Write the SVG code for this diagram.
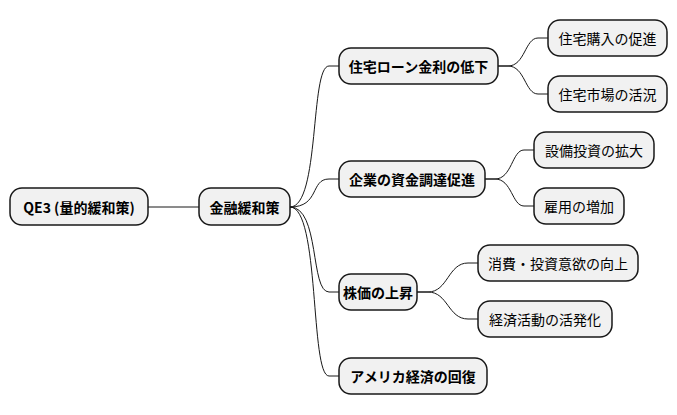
<svg xmlns="http://www.w3.org/2000/svg" width="677" height="415" viewBox="0 0 677 415">
<style>
.n rect{fill:#F1F1F1;stroke:#181818;stroke-width:1.5}
.n text{font-family:"Noto Sans CJK JP","DejaVu Sans",sans-serif;font-size:14px;fill:#000;text-anchor:middle;dominant-baseline:central}
.b text{font-weight:bold}
#edges path{fill:none;stroke:#181818;stroke-width:1}
</style>
<g id="edges">
<path d="M148,207 L199,207"/>
<path d="M290,207 C320,207 310,66 329,66 L339,66"/>
<path d="M290,207 C320,207 310,179 329,179 L339,179"/>
<path d="M290,207 C320,207 310,292 329,292 L339,292"/>
<path d="M290,207 C320,207 310,376 329,376 L339,376"/>
<path d="M498,66 L508,66 C525,66 525,38 538,38 L548,38"/>
<path d="M498,66 L508,66 C525,66 525,94 538,94 L548,94"/>
<path d="M485,179 L495,179 C512,179 512,150 524,150 L534,150"/>
<path d="M485,179 L495,179 C512,179 512,206 524,206 L534,206"/>
<path d="M417,292 L428,292 C448,292 448,263 468,263 L478,263"/>
<path d="M417,292 L428,292 C448,292 448,319 468,319 L478,319"/>
</g>
<g id="root" class="n b"><rect x="10" y="188" width="138" height="37" rx="12"/><text x="79" y="207">QE3 (量的緩和策)</text></g>
<g id="kinyu" class="n b"><rect x="199" y="188" width="91" height="37" rx="12"/><text x="244.5" y="207">金融緩和策</text></g>
<g id="jutaku" class="n b"><rect x="339" y="48" width="159" height="36" rx="12"/><text x="418.5" y="66">住宅ローン金利の低下</text></g>
<g id="kigyo" class="n b"><rect x="339" y="161" width="146" height="36" rx="12"/><text x="412" y="179">企業の資金調達促進</text></g>
<g id="kabuka" class="n b"><rect x="339" y="274" width="78" height="36" rx="12"/><text x="378" y="292">株価の上昇</text></g>
<g id="america" class="n b"><rect x="339" y="358" width="148" height="36" rx="12"/><text x="413" y="376">アメリカ経済の回復</text></g>
<g id="l1" class="n"><rect x="548" y="20" width="119" height="36" rx="12"/><text x="607.5" y="38">住宅購入の促進</text></g>
<g id="l2" class="n"><rect x="548" y="76" width="119" height="36" rx="12"/><text x="607.5" y="94">住宅市場の活況</text></g>
<g id="l3" class="n"><rect x="534" y="132" width="120" height="36" rx="12"/><text x="594" y="150">設備投資の拡大</text></g>
<g id="l4" class="n"><rect x="534" y="188" width="90" height="36" rx="12"/><text x="579" y="206">雇用の増加</text></g>
<g id="l5" class="n"><rect x="478" y="245" width="160" height="36" rx="12"/><text x="558" y="263">消費・投資意欲の向上</text></g>
<g id="l6" class="n"><rect x="478" y="301" width="134" height="36" rx="12"/><text x="545" y="319">経済活動の活発化</text></g>
</svg>
